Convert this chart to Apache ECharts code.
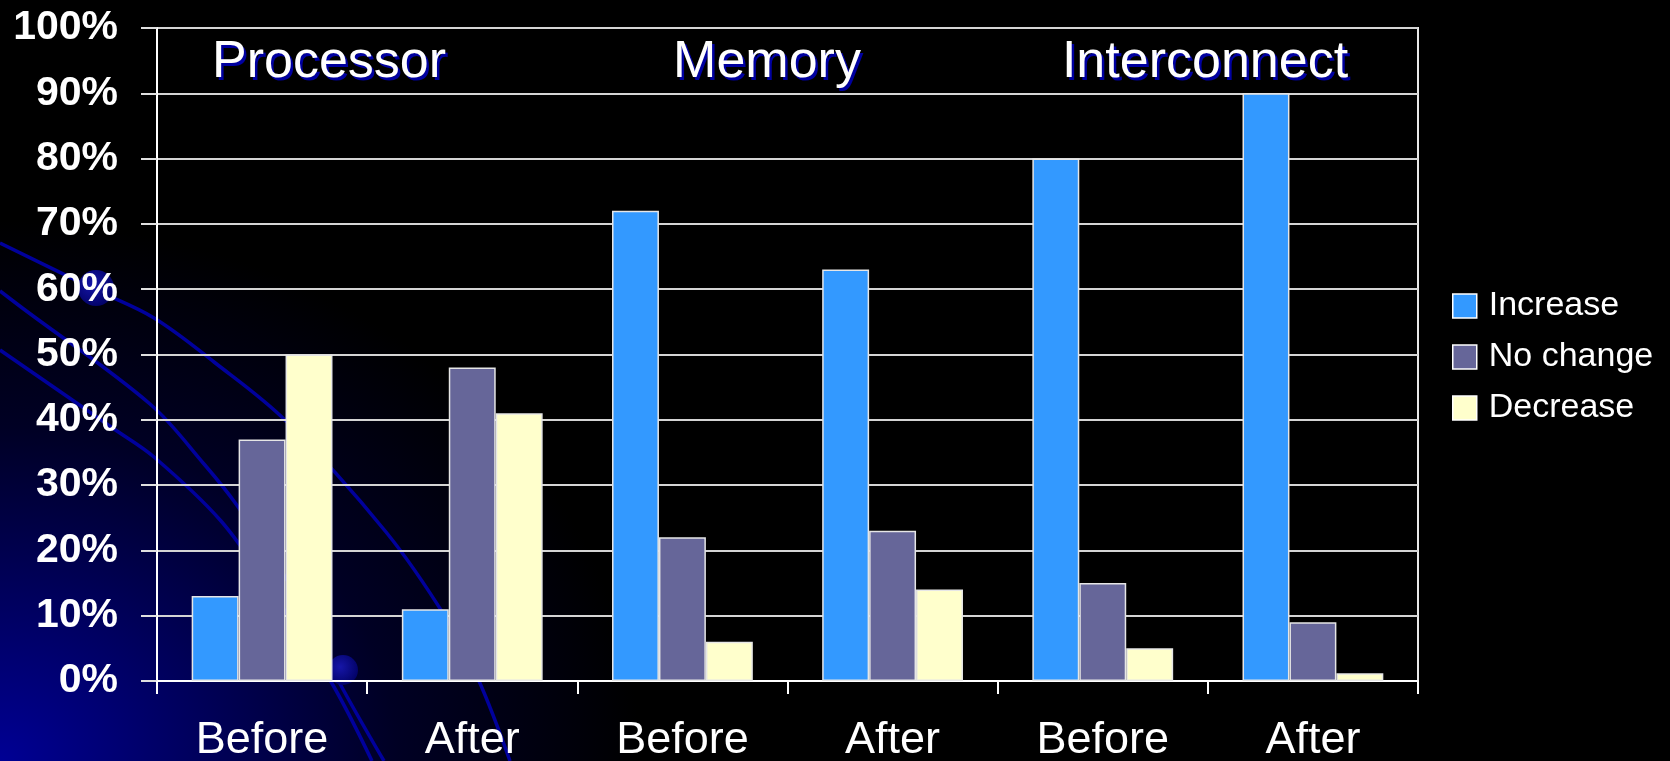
<!DOCTYPE html>
<html>
<head>
<meta charset="utf-8">
<script src="https://cdn.jsdelivr.net/npm/echarts@6/dist/echarts.min.js"></script>
<style>
  html, body { margin: 0; padding: 0; width: 1670px; height: 761px; overflow: hidden; }
  body {
    background: #000;
    background-image: radial-gradient(ellipse 640px 540px at 0% 100%, #000094 0%, #00005e 30%, #000024 62%, #000000 100%);
  }
  #chart { width: 1670px; height: 761px; }
</style>
</head>
<body>
<div id="chart"></div>
<script>
const categories = ['Before', 'After', 'Before', 'After', 'Before', 'After'];
const groupTitles = ['Processor', 'Memory', 'Interconnect'];
const seriesNames = ['Increase', 'No change', 'Decrease'];
const increase = [13, 11, 72, 63, 80, 90];
const noChange = [37, 48, 22, 23, 15, 9];
const decrease = [50, 41, 6, 14, 5, 1.2];
const yTicks = [0, 10, 20, 30, 40, 50, 60, 70, 80, 90, 100];

const colors = ['#3399FF', '#666699', '#FFFFCC'];
const chart = echarts.init(document.getElementById('chart'));

const swirlStyle = { stroke: '#00009c', lineWidth: 3.5, fill: null };
const titleX = [329, 767, 1205];
const titleFont = '52px "Liberation Sans", Arial, sans-serif';

const titleGraphics = [];
groupTitles.forEach((t, i) => {
  titleGraphics.push({
    type: 'text', z: 10, silent: true,
    style: { text: t, x: titleX[i] + 2.5, y: 65.5, textAlign: 'center', textVerticalAlign: 'middle', font: titleFont, fill: '#0000a0' }
  });
  titleGraphics.push({
    type: 'text', z: 11, silent: true,
    style: { text: t, x: titleX[i], y: 63, textAlign: 'center', textVerticalAlign: 'middle', font: titleFont, fill: '#ffffff' }
  });
});

const sphereFill = () => new echarts.graphic.RadialGradient(0.4, 0.4, 0.7, [{offset: 0, color: '#1616a8'}, {offset: 1, color: '#000060'}]);

const option = {
  backgroundColor: 'transparent',
  animation: false,
  color: colors,
  graphic: [
    { type: 'polyline', z: -5, silent: true, shape: { smooth: 0.35, points: [[0,243],[96,290],[154,318],[214,362],[286,421],[386,532],[446,618],[479,681],[510,761]] }, style: swirlStyle },
    { type: 'polyline', z: -5, silent: true, shape: { smooth: 0.35, points: [[0,291],[21,307],[150,404],[204,464],[236,504],[290,585],[338,680],[384,761]] }, style: swirlStyle },
    { type: 'polyline', z: -5, silent: true, shape: { smooth: 0.35, points: [[0,350],[114,429],[154,457],[221,521],[272,592],[330,680],[372,761]] }, style: swirlStyle },
    { type: 'circle', z: -5, silent: true, shape: { cx: 96, cy: 288, r: 18 }, style: { fill: sphereFill() } },
    { type: 'circle', z: -5, silent: true, shape: { cx: 343, cy: 670, r: 15 }, style: { fill: sphereFill() } }
  ].concat(titleGraphics),
  grid: {
    left: 157, right: 252, top: 28, bottom: 80,
    outerBoundsMode: 'none', containLabel: false,
    show: true, borderColor: '#e8e8e8', borderWidth: 2, backgroundColor: 'transparent'
  },
  legend: {
    orient: 'vertical', left: 1452, top: 289, padding: 0,
    itemWidth: 24, itemHeight: 24, itemGap: 17,
    icon: 'rect',
    data: seriesNames,
    itemStyle: { borderColor: '#ffffff', borderWidth: 1.5 },
    textStyle: { color: '#ffffff', fontSize: 34, lineHeight: 34, fontFamily: '"Liberation Sans", Arial, sans-serif', padding: [0, 0, 0, 7] }
  },
  xAxis: {
    type: 'category',
    data: categories,
    axisLine: { show: true, lineStyle: { color: '#ffffff', width: 2 } },
    axisTick: { show: true, length: 13, lineStyle: { color: '#ffffff', width: 2 } },
    axisLabel: { color: '#ffffff', fontSize: 45, margin: 37, fontFamily: '"Liberation Sans", Arial, sans-serif' },
    splitLine: { show: false }
  },
  yAxis: {
    type: 'value', min: 0, max: 100, interval: 10,
    axisLine: { show: true, lineStyle: { color: '#ffffff', width: 2 } },
    axisTick: { show: true, length: 16, lineStyle: { color: '#e0e0e0', width: 2 } },
    axisLabel: {
      color: '#ffffff', fontSize: 41, fontWeight: 'bold', margin: 39,
      fontFamily: '"Liberation Sans", Arial, sans-serif',
      formatter: v => (yTicks.indexOf(v) >= 0 ? v + '%' : '')
    },
    splitLine: { show: true, lineStyle: { color: '#d4d4d4', width: 2 } }
  },
  series: [
    { name: seriesNames[0], type: 'bar', data: increase, barGap: '0%', barCategoryGap: '33%',
      itemStyle: { color: colors[0], borderColor: '#e6e6e6', borderWidth: 1.5 } },
    { name: seriesNames[1], type: 'bar', data: noChange, barGap: '0%', barCategoryGap: '33%',
      itemStyle: { color: colors[1], borderColor: '#e6e6e6', borderWidth: 1.5 } },
    { name: seriesNames[2], type: 'bar', data: decrease, barGap: '0%', barCategoryGap: '33%',
      itemStyle: { color: colors[2], borderColor: '#e6e6e6', borderWidth: 1.5 } }
  ]
};
chart.setOption(option);
</script>
</body>
</html>
